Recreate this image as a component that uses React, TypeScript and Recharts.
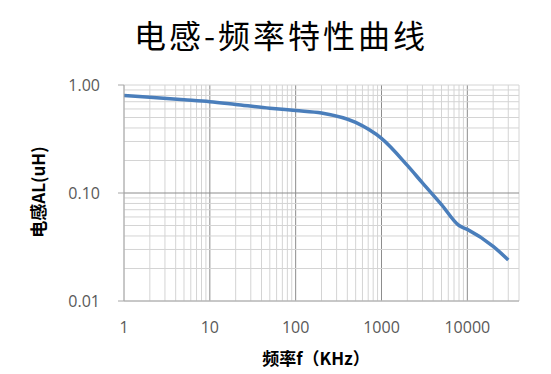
import React from 'react';
import { LineChart, Line, XAxis, YAxis, ReferenceLine } from 'recharts';

// 频率 (KHz) 与电感 AL (uH)，读自参考图
const freqKHz = [1, 2, 5, 10, 20, 50, 100, 200, 500, 1000, 2000, 3000, 5000, 8000, 10000, 20000, 30000];
const inductanceUH = [0.8, 0.77, 0.73, 0.7, 0.66, 0.61, 0.58, 0.55, 0.45, 0.32, 0.18, 0.124, 0.078, 0.05, 0.046, 0.032, 0.024];

const xTicks = [1, 10, 100, 1000, 10000];
const yTicks = [0.01, 0.1, 1];
const xDomain = [1, 40000];
const yDomain = [0.01, 1];

const data = freqKHz.map((f, i) => ({ f, al: inductanceUH[i] }));

// log grid: every 1..9 multiple inside each decade
const xGrid: number[] = [];
for (const d of [1, 10, 100, 1000, 10000]) {
  for (let m = 1; m <= 9; m += 1) {
    if (m * d <= xDomain[1]) xGrid.push(m * d);
  }
}
const yGrid: number[] = [];
for (const d of [0.01, 0.1]) {
  for (let m = 1; m <= 9; m += 1) yGrid.push(Number((m * d).toFixed(3)));
}
yGrid.push(1);

const MAJOR = '#8c8c8c';
const MINOR = '#d4d4d4';
const tickStyle = { fontFamily: '"Open Sans", sans-serif', fontSize: 16, fill: '#595959' };

export default function App() {
  return (
    <div style={{ position: 'absolute', left: 0, top: 0, width: 551, height: 374, background: '#fff' }}>
      <div
        style={{
          position: 'absolute',
          left: 0,
          top: 16,
          width: 562,
          textAlign: 'center',
          fontFamily: '"Noto Sans CJK SC", sans-serif',
          fontSize: 32,
          lineHeight: '36px',
          letterSpacing: 3,
          color: '#000'
        }}
      >
        电感-频率特性曲线
      </div>
      <LineChart
        width={551}
        height={374}
        data={data}
        margin={{ top: 85, right: 32, bottom: 0, left: 0 }}
      >
        <XAxis
          dataKey="f"
          type="number"
          scale="log"
          domain={xDomain}
          allowDataOverflow
          ticks={xTicks}
          interval={0}
          height={73}
          tickLine={false}
          tickSize={0}
          tickMargin={21}
          axisLine={{ stroke: '#a6a6a6' }}
          tick={tickStyle}
        />
        <YAxis
          type="number"
          scale="log"
          domain={yDomain}
          allowDataOverflow
          ticks={yTicks}
          interval={0}
          width={124}
          tickSize={6}
          tickMargin={18}
          tickLine={{ stroke: '#a6a6a6' }}
          axisLine={{ stroke: '#a6a6a6' }}
          tick={tickStyle}
          tickFormatter={(v) => Number(v).toFixed(2)}
        />
        {xGrid.map((v) => (
          <ReferenceLine
            key={'x' + v}
            x={v}
            stroke={xTicks.includes(v) && v !== 1 ? MAJOR : MINOR}
            strokeWidth={1}
          />
        ))}
        {yGrid.map((v) => (
          <ReferenceLine
            key={'y' + v}
            y={v}
            stroke={v === 0.1 ? MAJOR : MINOR}
            strokeWidth={1}
          />
        ))}
        <Line
          type="monotone"
          dataKey="al"
          stroke="#4a7ebb"
          strokeWidth={3.5}
          dot={false}
          isAnimationActive={false}
        />
      </LineChart>
      <div
        style={{
          position: 'absolute',
          left: 37,
          top: 192,
          transform: 'translate(-50%, -50%) rotate(-90deg)',
          whiteSpace: 'nowrap',
          fontFamily: '"Noto Sans CJK SC", sans-serif',
          fontWeight: 'bold',
          fontSize: 17,
          color: '#000'
        }}
      >
        电感AL(uH)
      </div>
      <div
        style={{
          position: 'absolute',
          left: 316,
          top: 357,
          transform: 'translate(-50%, -50%)',
          whiteSpace: 'nowrap',
          fontFamily: '"Noto Sans CJK SC", sans-serif',
          fontWeight: 'bold',
          fontSize: 17,
          color: '#000'
        }}
      >
        频率f（KHz）
      </div>
    </div>
  );
}
